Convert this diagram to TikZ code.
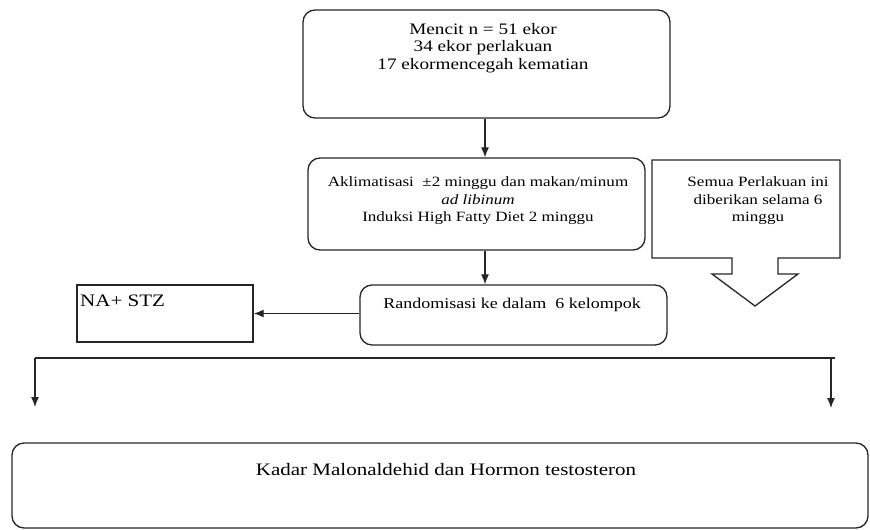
\documentclass[tikz,border=0pt]{standalone}
\usepackage{fontspec}
\setmainfont{Liberation Serif}[FakeStretch=1.2]
\usetikzlibrary{arrows.meta}

\begin{document}
\begin{tikzpicture}[x=1pt,y=-1pt,
  box/.style={draw=black!85,line width=1.3pt,rounded corners=12pt,inner sep=0pt},
  plainbox/.style={draw=black!85,line width=1.3pt,inner sep=0pt},
  txt/.style={align=center,inner sep=0pt,font=\fontsize{15}{17.5}\selectfont},
  bigtxt/.style={inner sep=0pt,font=\fontsize{17.5}{20}\selectfont},
  arr/.style={draw=black!85,line width=1.2pt,-{Latex[length=10pt,width=8pt]}}]
  \useasboundingbox (0,0) rectangle (870,530);
  % boxes
  \node[box,minimum width=367pt,minimum height=108pt] (mencit) at (486.5,64) {};
  \node[box,minimum width=337pt,minimum height=92pt] (aklim) at (476.5,204) {};
  \node[box,minimum width=307pt,minimum height=60pt] (random) at (513.5,315) {};
  \node[plainbox,minimum width=176pt,minimum height=57pt] (na) at (165,313.5) {};
  \node[box,minimum width=856pt,minimum height=85pt] (kadar) at (440,485.5) {};
  % texts
  \node[txt,font=\fontsize{16}{17.5}\selectfont] (mencittxt) at (483,48) {Mencit n = 51 ekor\\34 ekor perlakuan\\17 ekormencegah kematian};
  \node[txt,font=\fontsize{14.2}{17.5}\selectfont] (aklimtxt) at (478,201) {Aklimatisasi \ ±2 minggu dan makan/minum\\\textit{ad libinum}\\Induksi High Fatty Diet 2 minggu};
  \node[txt] (randomtxt) at (512,305) {Randomisasi ke dalam \ 6 kelompok};
  \node[bigtxt,anchor=west] (natxt) at (80,301) {NA+ STZ};
  \node[bigtxt] (kadartxt) at (446,470) {Kadar Malonaldehid dan Hormon testosteron};
  % callout
  \draw[draw=black!85,line width=1.3pt] (652,160) -- (840,160) -- (840,258) -- (778,258) -- (778,274)
    -- (798,274) -- (755,306) -- (712,274) -- (732,274) -- (732,258) -- (652,258) -- cycle;
  \node[txt,font=\fontsize{14.2}{17.5}\selectfont] (semuatxt) at (758,201) {Semua Perlakuan ini\\diberikan selama 6\\minggu};
  % connectors
  \coordinate (axis) at (485,0);
  \draw[arr] (axis |- mencit.south) -- (axis |- aklim.north);
  \draw[arr] (axis |- aklim.south) -- (axis |- random.north);
  \draw[arr] (random.west |- na.east) -- (na.east);
  \coordinate (lineL) at (35,358);
  \coordinate (lineR) at (835,358);
  \coordinate (tipL) at (35,407);
  \coordinate (forkR) at (831,358);
  \coordinate (tipR) at (831,408);
  \draw[draw=black!85,line width=1.3pt] (lineL) -- (lineR);
  \draw[arr] (lineL) -- (tipL);
  \draw[arr] (forkR) -- (tipR);
\end{tikzpicture}
\end{document}
